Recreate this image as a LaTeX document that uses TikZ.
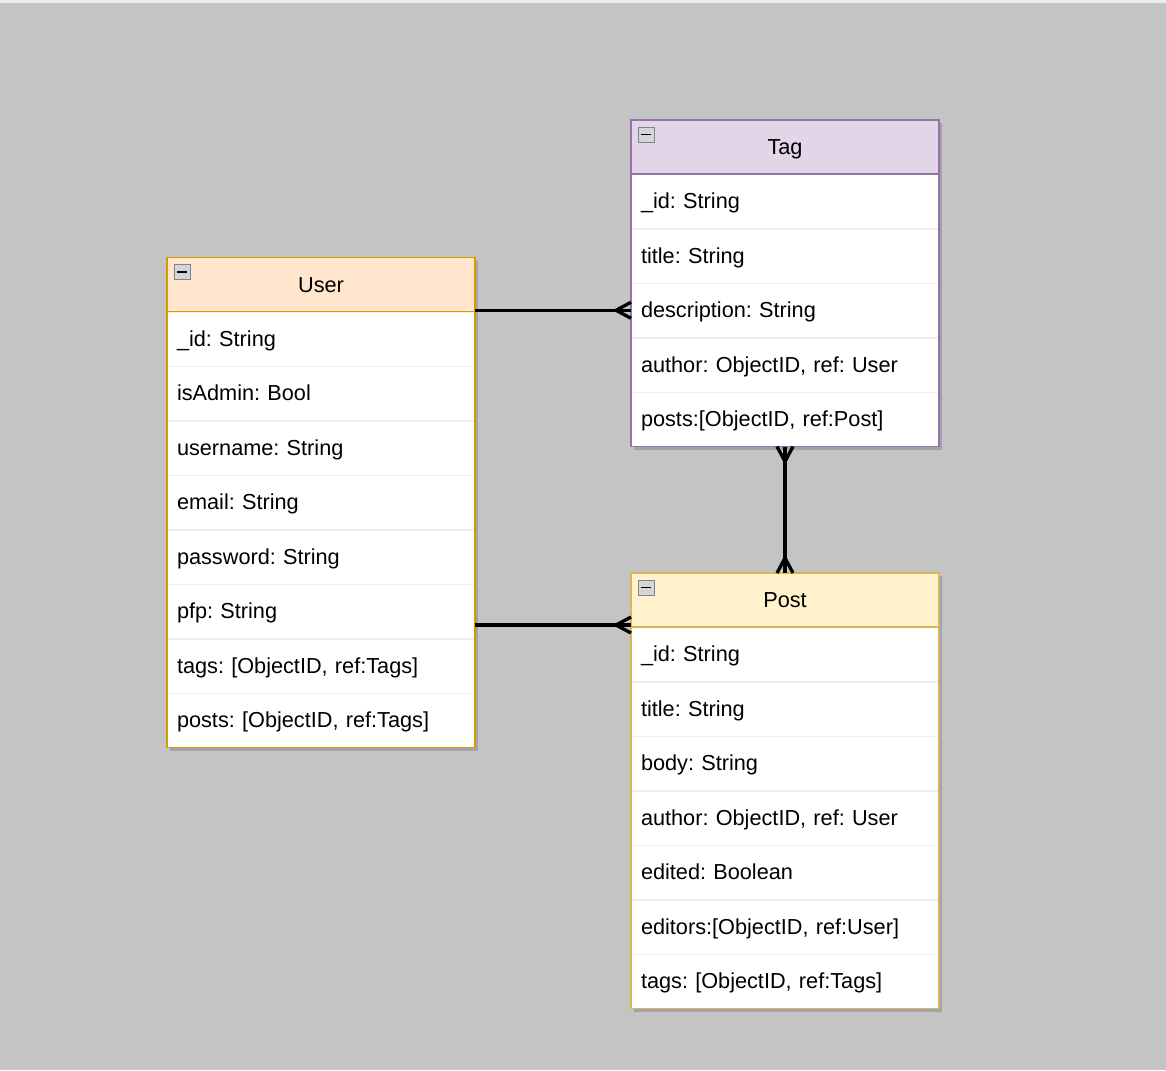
\documentclass[tikz,border=0pt]{standalone}
\usepackage{fontspec}
\setmainfont{Liberation Sans}
\frenchspacing
\usetikzlibrary{positioning,calc,shadows}

\definecolor{bgGray}{HTML}{C4C4C4}
\definecolor{topGray}{HTML}{ECEDEF}
\definecolor{userFill}{HTML}{FFE6CC}
\definecolor{userLine}{HTML}{D79B00}
\definecolor{postFill}{HTML}{FFF2CC}
\definecolor{postLine}{HTML}{D6B656}
\definecolor{tagFill}{HTML}{E1D5E7}
\definecolor{tagLine}{HTML}{9673A6}
\definecolor{rowLine}{HTML}{EEEEEE}
\definecolor{boxFill}{HTML}{D4D6DA}
\definecolor{boxLine}{HTML}{7C8490}
\definecolor{shadowGray}{HTML}{8C8CA0}

\tikzset{
  head/.style={rectangle, minimum width=308pt, minimum height=54pt, inner sep=0pt, outer sep=0pt,
    text height=18pt, text depth=3pt, font=\fontsize{21.7}{26}\selectfont,
    drop shadow={shadow xshift=3pt, shadow yshift=-3pt, fill=shadowGray, opacity=0.6}},
  field/.style={rectangle, fill=white, minimum height=54.5pt, inner xsep=10pt, inner ysep=0pt, outer sep=0pt,
    text width=288pt, align=left, text height=18pt, text depth=3pt,
    font=\fontsize{21.7}{26}\selectfont,
    drop shadow={shadow xshift=3pt, shadow yshift=-3pt, fill=shadowGray, opacity=0.6},
    path picture={\draw[rowLine, line width=2pt] (path picture bounding box.north west) -- (path picture bounding box.north east);}},
  link/.style={line width=3.3pt, black},
}

\def\crowfoot(#1)(#2){\draw[link, shift={(#1)}, rotate=#2] (-15,0) -- (0,8) (-15,0) -- (0,-8);}
\def\minusbox(#1){\draw[boxLine, fill=boxFill, shift={(#1)}] (7,7) rectangle (23,22); \draw[line width=1.5pt, shift={(#1)}] (10,14.5) -- (20,14.5);}

\begin{document}
\begin{tikzpicture}[x=1pt, y=-1pt]
		%%%%% START %%%%%
		
		\useasboundingbox (0,0) rectangle (1166,1070);
		\fill[bgGray] (0,0) rectangle (1166,1070);
		\fill[topGray] (0,0) rectangle (1166,3);
		
		% user
		\node[head, fill=userFill, anchor=north west] (userHead) at (167,257.5) {User};
		\node[field, below=0pt of userHead] (user1) {\_id: String};
		\node[field, below=0pt of user1] (user2) {isAdmin: Bool};
		\node[field, below=0pt of user2] (user3) {username: String};
		\node[field, below=0pt of user3] (user4) {email: String};
		\node[field, below=0pt of user4] (user5) {password: String};
		\node[field, below=0pt of user5] (user6) {pfp: String};
		\node[field, below=0pt of user6] (user7) {tags: [ObjectID, ref:Tags]};
		\node[field, below=0pt of user7] (user8) {posts: [ObjectID, ref:Tags]};
		\draw[userLine, line width=1.5pt] (userHead.north west) rectangle (user8.south east);
		\draw[userLine, line width=1.2pt] (userHead.south west) -- (userHead.south east);
		\minusbox(userHead.north west)
		
		% tag
		\node[head, fill=tagFill, anchor=north west] (tagHead) at (631,120) {Tag};
		\node[field, below=0pt of tagHead] (tag1) {\_id: String};
		\node[field, below=0pt of tag1] (tag2) {title: String};
		\node[field, below=0pt of tag2] (tag3) {description: String};
		\node[field, below=0pt of tag3] (tag4) {author: ObjectID, ref: User};
		\node[field, below=0pt of tag4] (tag5) {posts:[ObjectID, ref:Post]};
		\draw[tagLine, line width=1.5pt] (tagHead.north west) rectangle (tag5.south east);
		\draw[tagLine, line width=1.2pt] (tagHead.south west) -- (tagHead.south east);
		\minusbox(tagHead.north west)
		
		% post
		\node[head, fill=postFill, anchor=north west] (postHead) at (631,573) {Post};
		\node[field, below=0pt of postHead] (post1) {\_id: String};
		\node[field, below=0pt of post1] (post2) {title: String};
		\node[field, below=0pt of post2] (post3) {body: String};
		\node[field, below=0pt of post3] (post4) {author: ObjectID, ref: User};
		\node[field, below=0pt of post4] (post5) {edited: Boolean};
		\node[field, below=0pt of post5] (post6) {editors:[ObjectID, ref:User]};
		\node[field, below=0pt of post6] (post7) {tags: [ObjectID, ref:Tags]};
		\draw[postLine, line width=1.5pt] (postHead.north west) rectangle (post7.south east);
		\draw[postLine, line width=1.2pt] (postHead.south west) -- (postHead.south east);
		\minusbox(postHead.north west)
		
		% links
		\coordinate (postIn) at ($(postHead.south west)+(0,-2)$);
		\draw[link] (tag3.west) -- (tag3.west -| user1.east);
		\crowfoot(tag3.west)(0)
		\draw[link] (postIn) -- (postIn -| user6.east);
		\crowfoot(postIn)(0)
		\draw[link] (tag5.south) -- (postHead.north);
		\crowfoot(tag5.south)(90)
		\crowfoot(postHead.north)(-90)
		
		%%%%% END %%%%%
	\end{tikzpicture}
\end{document}
